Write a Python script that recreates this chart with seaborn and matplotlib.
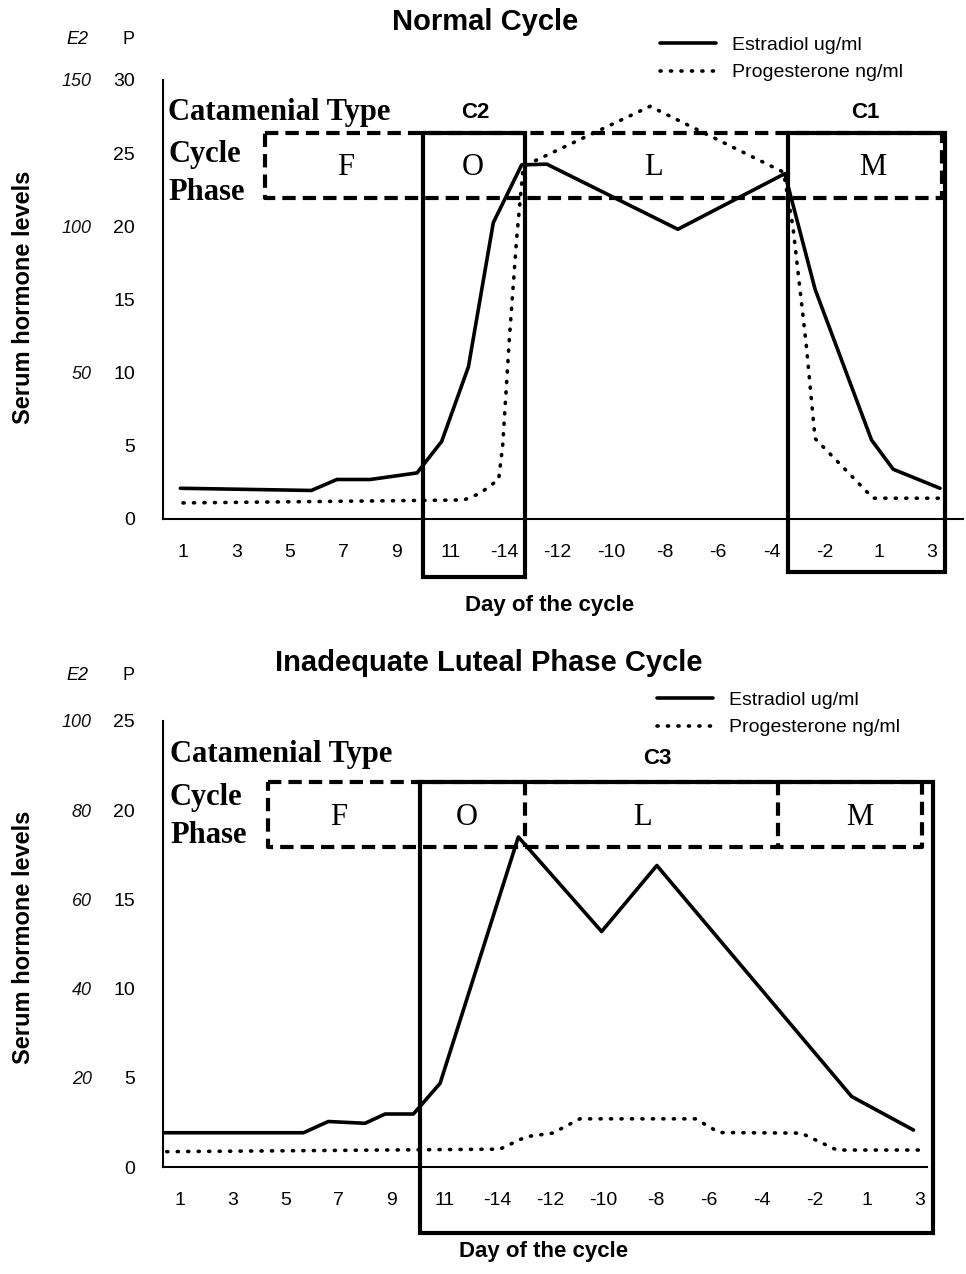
#recreate the catamenial type / hormone level figure (two panels)
import pandas as pd
import matplotlib.pyplot as plt
import seaborn as sns
from matplotlib.lines import Line2D
from matplotlib.patches import Rectangle

# x positions are in "day slot" units (0 = first day shown), ticks every 2 slots
tick_pos = [0, 2, 4, 6, 8, 10, 12, 14, 16, 18, 20, 22, 24, 26, 28]
tick_labels = ["1", "3", "5", "7", "9", "11", "-14", "-12", "-10", "-8", "-6", "-4", "-2", "1", "3"]

# Normal cycle
normal_e2_x = [-0.1, 4.8, 5.75, 7.0, 8.75, 9.67, 10.67, 11.6, 12.66, 13.6, 18.5, 22.5, 23.63, 25.74, 26.55, 28.3]
normal_e2_y = [2.1, 1.95, 2.7, 2.7, 3.15, 5.3, 10.4, 20.25, 24.2, 24.25, 19.8, 23.6, 15.7, 5.4, 3.4, 2.1]
normal_p_x = [0.0, 10.5, 11.1, 11.8, 11.95, 12.2, 12.47, 12.72, 17.46, 22.45, 22.8, 23.3, 23.63, 25.8, 28.3]
normal_p_y = [1.1, 1.3, 1.75, 2.7, 5.0, 12.3, 19.1, 24.1, 28.2, 23.7, 20.0, 11.9, 5.5, 1.42, 1.42]

# Inadequate luteal phase cycle
ilp_e2_x = [-0.63, 4.67, 5.61, 7.0, 7.76, 8.83, 9.84, 12.8, 15.95, 18.04, 25.41, 27.75]
ilp_e2_y = [1.92, 1.92, 2.55, 2.45, 2.97, 2.97, 4.69, 18.5, 13.2, 16.9, 3.95, 2.07]
ilp_p_x = [-0.5, 12.1, 13.1, 14.1, 15.13, 19.5, 20.4, 23.5, 24.85, 28.0]
ilp_p_y = [0.86, 1.0, 1.7, 1.9, 2.7, 2.7, 1.93, 1.9, 0.95, 0.95]

E2_LAB = "Estradiol ug/ml"
P_LAB = "Progesterone ng/ml"

sns.set_theme(style="white")
plt.rcParams['font.family'] = ['Liberation Sans', 'DejaVu Sans']
plt.rcParams['text.color'] = 'black'

W, H = 966, 1274
fig = plt.figure(figsize=(W / 100, H / 100), dpi=100)

LW = 2.6
dash_map = {E2_LAB: "", P_LAB: (0.3, 2.6)}


def make_df(ex, ey, px, py):
    d1 = pd.DataFrame({"day": ex, "level": ey, "hormone": E2_LAB})
    d2 = pd.DataFrame({"day": px, "level": py, "hormone": P_LAB})
    return pd.concat([d1, d2], ignore_index=True)


def draw_panel(ax, df, ymax, e2_factor, e2_ticks, xlim):
    sns.lineplot(data=df, x="day", y="level", style="hormone", dashes=dash_map,
                 color="black", linewidth=LW, sort=False, estimator=None,
                 legend=False, ax=ax)
    for ln in ax.lines:
        ln.set_dash_capstyle("round")
    ax.set_xlim(*xlim)
    ax.set_ylim(0, ymax)
    ax.set_xticks(tick_pos, tick_labels)
    ax.set_yticks(range(0, ymax + 1, 5))
    ax.set_xlabel("")
    ax.set_ylabel("")
    sns.despine(ax=ax)
    for s in ["left", "bottom"]:
        ax.spines[s].set_linewidth(1.5)
        ax.spines[s].set_color("black")
    ax.tick_params(axis="both", direction="out", length=11, width=1.5,
                   color="black", labelsize=14, labelcolor="black")
    ax.tick_params(axis="x", pad=7)
    ax.tick_params(axis="y", pad=9)
    # E2 scale on the far left
    loc = -71 / (ax.get_position().width * W)
    sec = ax.secondary_yaxis(loc, functions=(lambda p: p * e2_factor, lambda e: e / e2_factor))
    sec.set_yticks(e2_ticks, labels=[str(t) for t in e2_ticks], fontstyle="italic")
    sec.tick_params(length=0, pad=0, labelsize=13, labelcolor="#111111")
    sec.spines["left"].set_visible(False)


def legend_at(x, y):
    handles = [Line2D([], [], color="black", lw=LW),
               Line2D([], [], color="black", lw=LW, linestyle=(0, (0.3, 2.6)),
                      dash_capstyle="round")]
    fig.legend(handles, [E2_LAB, P_LAB], loc="upper left", bbox_to_anchor=(x / W, 1 - y / H),
               frameon=False, fontsize=14, handlelength=2.9, handletextpad=0.8,
               labelspacing=0.52, borderpad=0, borderaxespad=0)


serif = ['Liberation Serif', 'DejaVu Serif']
dash_ls = (0, (3.2, 1.7))

# ---------------- top panel ----------------
ax1 = fig.add_axes([163 / W, 1 - 519 / H, 800 / W, 439 / H])
draw_panel(ax1, make_df(normal_e2_x, normal_e2_y, normal_p_x, normal_p_y),
           30, 5, [50, 100, 150], (-0.748, 29.16))

ax1.plot([3.07, 28.36, 28.36, 3.07, 3.07], [26.4, 26.4, 21.96, 21.96, 26.4],
         color="black", lw=3, linestyle=dash_ls)
ax1.add_patch(Rectangle((8.98, -3.97), 3.8, 30.37, fill=False, lw=3, ec="black", clip_on=False))
ax1.add_patch(Rectangle((22.63, -3.6), 5.87, 30.0, fill=False, lw=3, ec="black", clip_on=False))
for lab, xx in zip(["F", "O", "L", "M"], [6.06, 10.84, 17.57, 25.8]):
    ax1.text(xx, 24.0, lab, ha="center", va="center", fontsize=22, family=serif)
ax1.text(10.92, 27.8, "C2", ha="center", va="center", fontsize=16, fontweight="bold")
ax1.text(25.5, 27.8, "C1", ha="center", va="center", fontsize=16, fontweight="bold")
for lab, yy in zip(["Catamenial Type", "Cycle", "Phase"], [27.8, 24.9, 22.3]):
    ax1.text(-0.56, yy, lab, ha="left", va="center", fontsize=22, fontweight="bold", family=serif)

fig.text(485 / W, 1 - 22 / H, "Normal Cycle", ha="center", va="center", fontsize=21, fontweight="bold")
fig.text(77 / W, 1 - 40 / H, "E2", ha="center", va="center", fontsize=13, fontstyle="italic")
fig.text(128 / W, 1 - 40 / H, "P", ha="center", va="center", fontsize=13)
fig.text(550 / W, 1 - 605 / H, "Day of the cycle", ha="center", va="center", fontsize=16, fontweight="bold")
fig.text(24 / W, 1 - 297 / H, "Serum hormone levels", ha="center", va="center", rotation=90,
         fontsize=17, fontweight="bold")
legend_at(660, 36)

# ---------------- bottom panel ----------------
ax2 = fig.add_axes([163 / W, 1 - 1167 / H, 764 / W, 446 / H])
draw_panel(ax2, make_df(ilp_e2_x, ilp_e2_y, ilp_p_x, ilp_p_y),
           25, 4, [20, 40, 60, 80, 100], (-0.643, 28.26))

ax2.plot([3.34, 28.06, 28.06, 3.34, 3.34], [21.6, 21.6, 17.92, 17.92, 21.6],
         color="black", lw=3, linestyle=dash_ls)
for xx in [13.05, 22.64]:
    ax2.plot([xx, xx], [21.6, 17.92], color="black", lw=3, linestyle=dash_ls)
ax2.add_patch(Rectangle((9.08, -3.72), 19.42, 25.28, fill=False, lw=3, ec="black", clip_on=False))
for lab, xx in zip(["F", "O", "L", "M"], [5.98, 10.86, 17.5, 25.7]):
    ax2.text(xx, 19.6, lab, ha="center", va="center", fontsize=22, family=serif)
ax2.text(18.05, 22.9, "C3", ha="center", va="center", fontsize=16, fontweight="bold")
for lab, yy in zip(["Catamenial Type", "Cycle", "Phase"], [23.1, 20.7, 18.6]):
    ax2.text(-0.38, yy, lab, ha="left", va="center", fontsize=22, fontweight="bold", family=serif)

fig.text(489 / W, 1 - 663 / H, "Inadequate Luteal Phase Cycle", ha="center", va="center",
         fontsize=21, fontweight="bold")
fig.text(77 / W, 1 - 676 / H, "E2", ha="center", va="center", fontsize=13, fontstyle="italic")
fig.text(128 / W, 1 - 676 / H, "P", ha="center", va="center", fontsize=13)
fig.text(544 / W, 1 - 1252 / H, "Day of the cycle", ha="center", va="center", fontsize=16, fontweight="bold")
fig.text(24 / W, 1 - 937 / H, "Serum hormone levels", ha="center", va="center", rotation=90,
         fontsize=17, fontweight="bold")
legend_at(657, 691)

fig.savefig("out.png", dpi=100, facecolor="white")
